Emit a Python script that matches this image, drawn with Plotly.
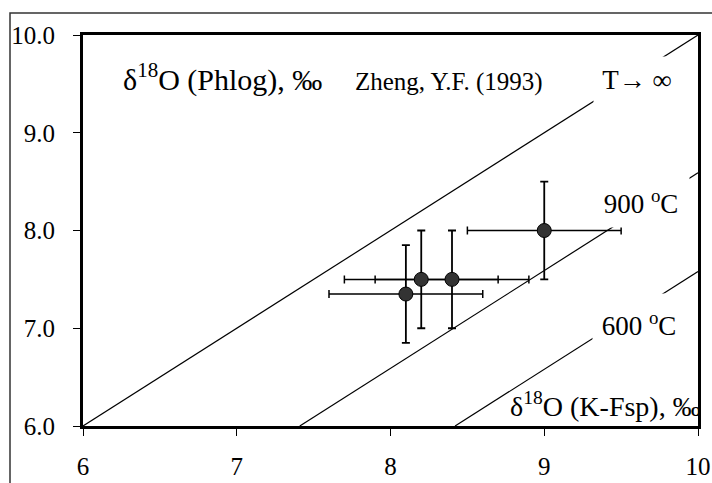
import plotly.graph_objects as go

# Data
kfsp = [8.1, 8.2, 8.4, 9.0]          # δ18O K-Fsp (x)
phlog = [7.35, 7.5, 7.5, 8.0]        # δ18O Phlogopite (y)
kfsp_err = [0.5, 0.5, 0.5, 0.5]
phlog_err = [0.5, 0.5, 0.5, 0.5]
iso_names = ["T→ ∞", "900 <sup>o</sup>C", "600 <sup>o</sup>C"]
iso_delta = [0.0, 1.41, 2.42]        # Δ(K-Fsp − Phlog) for isotherms
x_ticks = [6, 7, 8, 9, 10]
y_ticks = [6.0, 7.0, 8.0, 9.0, 10.0]

FONT = "Liberation Serif, Times New Roman, serif"

fig = go.Figure()

for d in iso_delta:
    xs = [6 + d, 10]
    ys = [x - d for x in xs]
    fig.add_trace(go.Scatter(x=xs, y=ys, mode="lines",
                             line=dict(color="black", width=1.2),
                             hoverinfo="skip", showlegend=False))

fig.add_trace(go.Scatter(
    x=kfsp, y=phlog, mode="markers",
    marker=dict(size=14, color="#333333", line=dict(color="black", width=1)),
    error_x=dict(type="data", array=kfsp_err, color="black", thickness=1.5, width=4),
    error_y=dict(type="data", array=phlog_err, color="black", thickness=1.8, width=4),
    showlegend=False))

def px2x(px):
    return 6 + (px - 83) / 153.75

def py2y(py):
    return 10 - (py - 35) / 97.75

# Isotherm labels (white boxes interrupt lines)
label_pos = [(637, 80, 84, 44, "middle"), (641, 202, 94, 48, "middle"), (639, 318, 90, 46, "bottom")]
for name, (cx, cy, w, h, va) in zip(iso_names, label_pos):
    fig.add_annotation(x=px2x(cx), y=py2y(cy), xref="x", yref="y", text=name,
                       showarrow=False, bgcolor="white", width=w, height=h, valign=va,
                       font=dict(family=FONT, size=27, color="black"))

fig.add_annotation(x=px2x(121), y=py2y(77), xref="x", yref="y", xanchor="left",
                   text="δ<sup>18</sup>O (Phlog), ‰", showarrow=False,
                   font=dict(family=FONT, size=30, color="black"))
fig.add_annotation(x=px2x(353), y=py2y(82), xref="x", yref="y", xanchor="left",
                   text="Zheng, Y.F. (1993)", showarrow=False,
                   font=dict(family=FONT, size=25, color="black"))
fig.add_annotation(x=px2x(508), y=py2y(404), xref="x", yref="y", xanchor="left",
                   text="δ<sup>18</sup>O (K-Fsp), ‰", showarrow=False,
                   font=dict(family=FONT, size=28, color="black"))

# outer frame
fig.add_shape(type="rect", xref="paper", yref="paper",
              x0=(10 - 83) / 615, x1=(730 - 83) / 615,
              y0=(426 - 500) / 391, y1=(426 - 13) / 391,
              line=dict(color="#333333", width=1.5), layer="below")

fig.update_xaxes(range=[6, 10], tickvals=x_ticks, ticktext=[str(v) for v in x_ticks],
                 showgrid=False, zeroline=False, showline=True, linewidth=3,
                 linecolor="black", mirror=True, ticks="outside", ticklen=7,
                 tickwidth=1, tickcolor="black", ticklabelstandoff=9, automargin=False,
                 tickfont=dict(family=FONT, size=25, color="black"))
fig.update_yaxes(range=[6, 10], tickvals=y_ticks, ticktext=[f"{v:.1f}" for v in y_ticks],
                 showgrid=False, zeroline=False, showline=True, linewidth=3,
                 linecolor="black", mirror=True, ticks="outside", ticklen=7,
                 tickwidth=1, tickcolor="black", ticklabelstandoff=13, automargin=False,
                 tickfont=dict(family=FONT, size=25, color="black"))

fig.update_layout(width=712, height=483,
                  margin=dict(l=83, r=14, t=35, b=57),
                  paper_bgcolor="white", plot_bgcolor="white")

fig.write_html("out.html")
